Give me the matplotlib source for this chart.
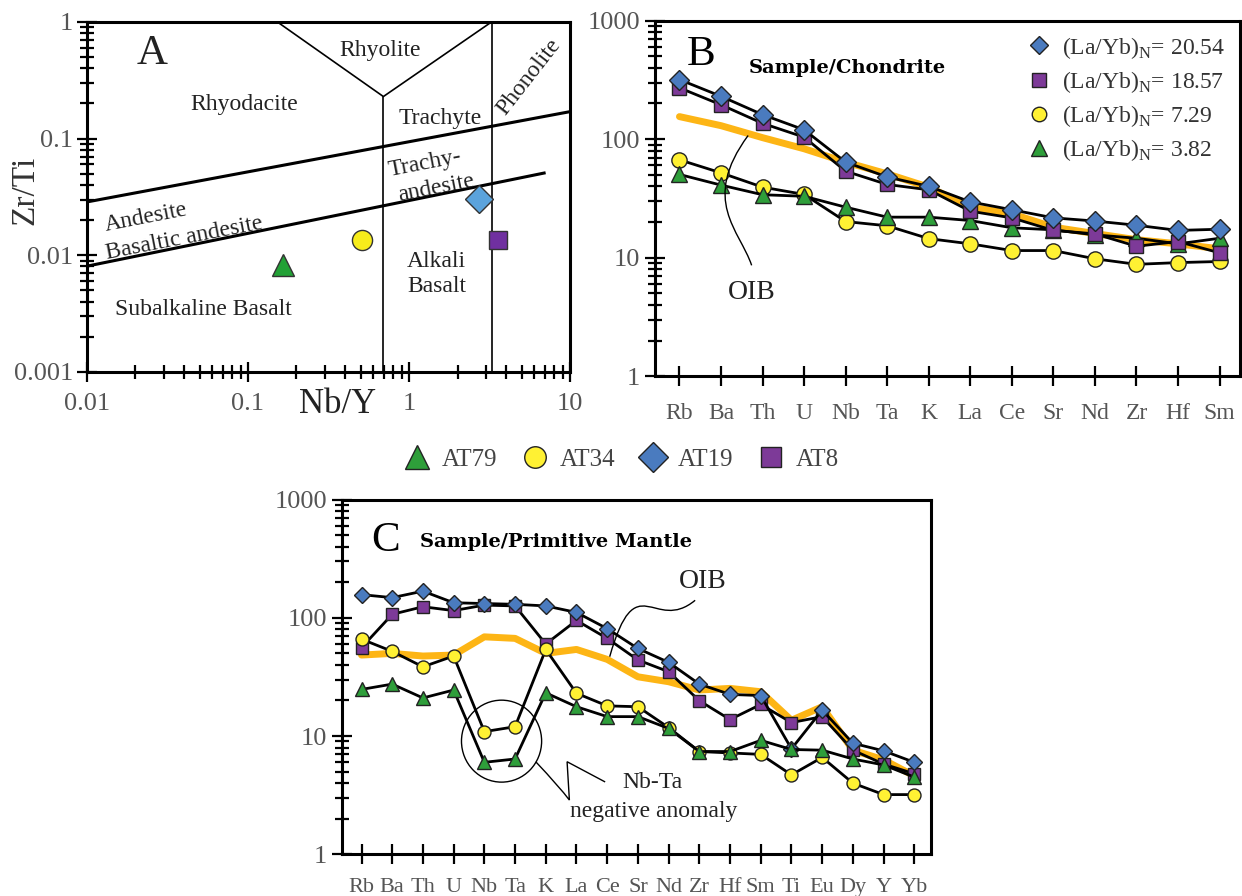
import matplotlib
matplotlib.use("Agg")
import matplotlib.pyplot as plt
from matplotlib.lines import Line2D
from matplotlib.path import Path
from matplotlib.patches import PathPatch, Ellipse
from matplotlib.ticker import LogLocator, NullFormatter, FixedFormatter, FixedLocator

plt.rcParams['font.family'] = ['Liberation Serif', 'DejaVu Serif']
plt.rcParams['mathtext.fontset'] = 'custom'
plt.rcParams['mathtext.rm'] = 'Liberation Serif'

# ---------------- data ----------------
# panel A : Nb/Y vs Zr/Ti (Winchester & Floyd / Pearce)
samples = ['AT79', 'AT34', 'AT19', 'AT8']
nb_y = [0.166, 0.513, 2.72, 3.57]
zr_ti = [0.0083, 0.0136, 0.0303, 0.0136]

# field boundaries
upper_x = [0.01, 10]
upper_y = [0.0286, 0.170]
lower_x = [0.01, 6.9]
lower_y = [0.00805, 0.0506]
rhy_x = [0.152, 0.693, 3.26]
rhy_y = [1.0, 0.229, 1.0]
vert1_x = [0.693, 0.693]
vert1_y = [0.001, 0.229]
vert2_x = [3.26, 3.26]
vert2_y = [0.001, 1.0]

# panel B : chondrite normalised
elems_b = ['Rb', 'Ba', 'Th', 'U', 'Nb', 'Ta', 'K', 'La', 'Ce', 'Sr', 'Nd', 'Zr', 'Hf', 'Sm']
b_at19 = [318, 230, 161, 120, 64, 48, 40, 29.6, 25.4, 21.7, 20.4, 18.8, 17.0, 17.4]
b_at8 = [271, 195, 136, 104, 53.7, 41.5, 37.4, 24.7, 21.7, 17.0, 15.9, 12.5, 13.7, 11.0]
b_at34 = [67, 52, 39.4, 34.2, 20.2, 18.6, 14.5, 13.1, 11.5, 11.5, 9.8, 8.8, 9.1, 9.3]
b_at79 = [50.4, 41, 34, 33, 26.7, 22, 22, 20.6, 17.9, 17.2, 15.6, 14.6, 13.1, 14.6]
b_oib = [155, 130, 103, 83, 64, 51, 39.4, 26.7, 23.5, 18.1, 16, 14.2, 13.1, 11.9]
ratios = ['20.54', '18.57', '7.29', '3.82']

# panel C : primitive mantle normalised
elems_c = ['Rb', 'Ba', 'Th', 'U', 'Nb', 'Ta', 'K', 'La', 'Ce', 'Sr', 'Nd', 'Zr', 'Hf', 'Sm',
           'Ti', 'Eu', 'Dy', 'Y', 'Yb']
c_at19 = [157, 148, 168, 134, 132, 130, 126, 111, 81, 55, 42, 27.5, 22.5, 22, 7.8, 16.6, 8.7, 7.5, 6.0]
c_at8 = [56, 107, 124, 115, 128, 126, 60, 95, 67, 44, 35, 19.9, 13.8, 18.5, 13, 14.6, 7.6, 5.8, 4.8]
c_at34 = [66, 52, 38.5, 47.5, 10.9, 12, 54, 23, 18, 17.7, 11.8, 7.4, 7.2, 7.0, 4.7, 6.6, 4.0, 3.2, 3.2]
c_at79 = [24.8, 27.5, 21, 24.5, 6.0, 6.4, 23.2, 17.7, 14.6, 14.6, 11.6, 7.4, 7.4, 9.2, 7.7, 7.6, 6.4, 5.7, 4.5]
c_oib = [48.4, 50, 47.5, 48.4, 69, 67, 50, 54, 44.5, 31.7, 28.8, 24.5, 25.3, 23.7, 13.6, 17.7, 7.6, 6.3, 4.6]

# ---------------- styles ----------------
GRAY = '#555555'
ORANGE = '#FDB515'
sty = {
    'AT79': dict(marker='^', mfc='#2E9E3A', ms=12),
    'AT34': dict(marker='o', mfc='#FFF133', ms=11),
    'AT19': dict(marker='D', mfc='#4A7BBF', ms=10),
    'AT8': dict(marker='s', mfc='#7D3A98', ms=10),
}

fig = plt.figure(figsize=(12.42, 8.96), dpi=100)


def style_log_axis(ax, axis='y'):
    a = ax.yaxis if axis == 'y' else ax.xaxis
    a.set_major_locator(LogLocator(base=10, numticks=10))
    a.set_minor_locator(LogLocator(base=10, subs=range(2, 10), numticks=10))
    a.set_minor_formatter(NullFormatter())


def frame(ax):
    for s in ax.spines.values():
        s.set_linewidth(2.2)
    ax.tick_params(which='both', direction='inout', width=1.6, colors='black',
                   labelcolor=GRAY, labelsize=19)
    ax.tick_params(which='major', length=14)
    ax.tick_params(which='minor', length=10)


# ================= panel A =================
axA = fig.add_axes([0.070, 0.585, 0.389, 0.3906])
axA.set_xscale('log')
axA.set_yscale('log')
axA.set_xlim(0.01, 10)
axA.set_ylim(0.001, 1)
style_log_axis(axA, 'x')
style_log_axis(axA, 'y')
axA.xaxis.set_major_formatter(FixedFormatter(['0.01', '0.1', '1', '10']))
axA.xaxis.set_major_locator(FixedLocator([0.01, 0.1, 1, 10]))
axA.yaxis.set_major_locator(FixedLocator([0.001, 0.01, 0.1, 1]))
axA.yaxis.set_major_formatter(FixedFormatter(['0.001', '0.01', '0.1', '1']))
frame(axA)
axA.tick_params(axis='x', pad=8)
axA.tick_params(axis='y', pad=3)

for xs, ys in [(upper_x, upper_y), (lower_x, lower_y)]:
    axA.plot(xs, ys, color='black', lw=2.2, zorder=2)
for xs, ys in [(rhy_x, rhy_y), (vert1_x, vert1_y), (vert2_x, vert2_y)]:
    axA.plot(xs, ys, color='black', lw=1.2, zorder=2)

colA = {'AT79': '#22A136', 'AT34': '#F7EC1B', 'AT19': '#5BA3DC', 'AT8': '#7030A0'}
msA = {'AT79': 16, 'AT34': 14.5, 'AT19': 14, 'AT8': 13}
for s, x, y in zip(samples, nb_y, zr_ti):
    axA.plot(x, y, linestyle='none', marker=sty[s]['marker'], ms=msA[s],
             mfc=colA[s], mec='#333333', mew=1.0, zorder=4)

tA = dict(transform=axA.transAxes, ha='center', va='center', color='#222222')
axA.text(0.135, 0.91, 'A', fontsize=31, **tA)
axA.text(0.606, 0.919, 'Rhyolite', fontsize=17, **tA)
axA.text(0.325, 0.764, 'Rhyodacite', fontsize=17, **tA)
axA.text(0.732, 0.725, 'Trachyte', fontsize=17, **tA)
axA.text(0.914, 0.843, 'Phonolite', rotation=52, fontsize=17, **tA)
axA.text(0.700, 0.596, 'Trachy-', rotation=11, fontsize=17, **tA)
axA.text(0.722, 0.525, 'andesite', rotation=11, fontsize=17, **tA)
axA.text(0.123, 0.440, 'Andesite', rotation=11, fontsize=17, **tA)
axA.text(0.202, 0.380, 'Basaltic andesite', rotation=11, fontsize=17, **tA)
axA.text(0.724, 0.316, 'Alkali', fontsize=17, **tA)
axA.text(0.724, 0.245, 'Basalt', fontsize=17, **tA)
axA.text(0.241, 0.179, 'Subalkaline Basalt', fontsize=17, **tA)

fig.text(0.020, 0.788, 'Zr/Ti', rotation=90, ha='center', va='center', fontsize=24, color='#333333')
fig.text(0.272, 0.548, 'Nb/Y', ha='center', va='center', fontsize=25, color='#222222')


def spider(ax, elems, oib, series, order, ms_scale):
    x = list(range(len(elems)))
    ax.set_yscale('log')
    ax.set_ylim(1, 1000)
    style_log_axis(ax, 'y')
    ax.yaxis.set_major_locator(FixedLocator([1, 10, 100, 1000]))
    ax.yaxis.set_major_formatter(FixedFormatter(['1', '10', '100', '1000']))
    ax.set_xticks(x)
    ax.set_xticklabels(elems)
    frame(ax)
    ax.tick_params(axis='x', pad=12, labelsize=17)
    ax.plot(x, oib, color=ORANGE, lw=5, solid_capstyle='round', zorder=2)
    for z, s in enumerate(order):
        st = sty[s]
        ax.plot(x, series[s], color='black', lw=2.0, marker=st['marker'],
                ms=st['ms'] * ms_scale, mfc=st['mfc'], mec='#222222', mew=1.0, zorder=3 + z)
    return x


# ================= panel B =================
axB = fig.add_axes([0.527, 0.580, 0.471, 0.397])
spider(axB, elems_b, b_oib,
       {'AT19': b_at19, 'AT8': b_at8, 'AT34': b_at34, 'AT79': b_at79},
       ['AT34', 'AT79', 'AT8', 'AT19'], 1.0)
axB.set_xlim(-0.6, 13.48)
axB.text(0.08, 0.905, 'B', transform=axB.transAxes, ha='center', va='center', fontsize=31)
axB.text(0.33, 0.868, 'Sample/Chondrite', transform=axB.transAxes, ha='center', va='center',
         fontsize=14, fontweight='bold', family='DejaVu Serif')

hB = [Line2D([], [], linestyle='none', marker=sty[s]['marker'], ms=sty[s]['ms'] * 0.95,
             mfc=sty[s]['mfc'], mec='#222222', mew=1.0) for s in ['AT19', 'AT8', 'AT34', 'AT79']]
labB = ['(La/Yb)$_\\mathregular{N}$= ' + r for r in ratios]
axB.legend(hB, labB, loc='upper right', bbox_to_anchor=(1.0, 1.0), frameon=False,
           fontsize=17, handletextpad=0.4, labelspacing=0.35, borderaxespad=0.2,
           handlelength=1.2, labelcolor='#333333')

lead_b = Path([(0.160, 0.677), (0.078, 0.494), (0.146, 0.410), (0.166, 0.312)],
              [Path.MOVETO, Path.CURVE4, Path.CURVE4, Path.CURVE4])
axB.add_patch(PathPatch(lead_b, transform=axB.transAxes, fill=False, lw=1.0, zorder=6))
axB.text(0.166, 0.236, 'OIB', transform=axB.transAxes, ha='center', va='center',
         fontsize=20, color='#222222')

# ================= panel C =================
axC = fig.add_axes([0.275, 0.0465, 0.4745, 0.396])
spider(axC, elems_c, c_oib,
       {'AT19': c_at19, 'AT8': c_at8, 'AT34': c_at34, 'AT79': c_at79},
       ['AT8', 'AT19', 'AT34', 'AT79'], 0.85)
axC.set_xlim(-0.65, 18.54)
axC.tick_params(axis='x', labelsize=16, pad=10)
axC.text(0.075, 0.885, 'C', transform=axC.transAxes, ha='center', va='center', fontsize=31)
axC.text(0.364, 0.880, 'Sample/Primitive Mantle', transform=axC.transAxes, ha='center',
         va='center', fontsize=14, fontweight='bold', family='DejaVu Serif')

lead_c = Path([(0.455, 0.557), (0.50, 0.82), (0.53, 0.62), (0.600, 0.716)],
              [Path.MOVETO, Path.CURVE4, Path.CURVE4, Path.CURVE4])
axC.add_patch(PathPatch(lead_c, transform=axC.transAxes, fill=False, lw=1.0, zorder=8))
axC.text(0.613, 0.768, 'OIB', transform=axC.transAxes, ha='center', va='center',
         fontsize=20, color='#222222')

axC.add_patch(Ellipse((0.2715, 0.319), 0.136, 0.231, transform=axC.transAxes,
                      fill=False, lw=1.0, zorder=8))
squig = Path([(0.3295, 0.261), (0.37, 0.19), (0.3866, 0.153), (0.3827, 0.261), (0.4473, 0.204)],
             [Path.MOVETO, Path.CURVE3, Path.CURVE3, Path.LINETO, Path.LINETO])
axC.add_patch(PathPatch(squig, transform=axC.transAxes, fill=False, lw=1.0, zorder=8))
axC.text(0.527, 0.202, 'Nb-Ta', transform=axC.transAxes, ha='center', va='center',
         fontsize=17, color='#222222')
axC.text(0.530, 0.120, 'negative anomaly', transform=axC.transAxes, ha='center', va='center',
         fontsize=17, color='#222222')

# ================= shared legend =================
hL = [Line2D([], [], linestyle='none', marker=sty[s]['marker'], ms=msA[s] + 1,
             mfc=sty[s]['mfc'], mec='#222222', mew=1.0) for s in samples]
fig.legend(hL, samples, loc='center', bbox_to_anchor=(0.4995, 0.487), ncol=4, frameon=False,
           fontsize=18, handletextpad=0.4, columnspacing=0.9, handlelength=1.2,
           labelcolor='#444444')

fig.savefig('out.png', dpi=100)
